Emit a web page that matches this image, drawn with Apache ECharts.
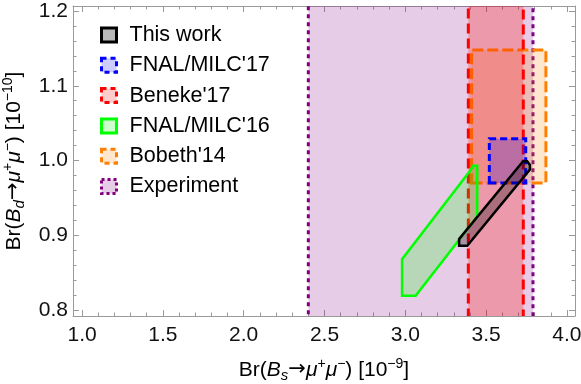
<!DOCTYPE html>
<html>
<head>
<meta charset="utf-8">
<script src="https://cdn.jsdelivr.net/npm/echarts@6/dist/echarts.min.js"></script>
<style>
  html, body { margin: 0; padding: 0; background: #fff; }
  #main { width: 581px; height: 384px; }
</style>
</head>
<body>
<div id="main"></div>
<script>
  // values
  var seriesNames = ['This work', "FNAL/MILC'17", "Beneke'17", "FNAL/MILC'16", "Bobeth'14", 'Experiment'];
  var experimentX = [2.40, 3.79];
  var benekeX = [3.39, 3.73];
  var bobethX = [3.41, 3.87];
  var bobethY = [0.970, 1.148];
  var fnal17X = [3.52, 3.745];
  var fnal17Y = [0.970, 1.029];
  var fnal16Pts = [[2.980, 0.868], [2.980, 0.819], [3.064, 0.819], [3.445, 0.925], [3.445, 0.993], [3.420, 0.993], [3.400, 0.986]];
  var thisWorkPts = [[3.333, 0.895], [3.333, 0.886], [3.383, 0.886], [3.771, 0.988], [3.771, 0.994], [3.754, 0.999], [3.729, 0.999]];
  var xTickLabels = ['1.0', '1.5', '2.0', '2.5', '3.0', '3.5', '4.0'];
  var yTickLabels = ['0.8', '0.9', '1.0', '1.1', '1.2'];

  var font = 'Liberation Sans, Arial, sans-serif';
  var gray = '#9a9a9a';

  function rectPts (xs, ys) {
    return [[xs[0], ys[0]], [xs[1], ys[0]], [xs[1], ys[1]], [xs[0], ys[1]]];
  }
  // bands run past the frame and get clipped
  function bandPts (xs) {
    return rectPts(xs, [0.6, 1.4]);
  }

  function region (name, pts, stroke, fill, dash, width) {
    return {
      type: 'custom',
      name: name,
      clip: true,
      silent: true,
      data: pts,
      renderItem: function (params, api) {
        if (params.dataIndex !== 0) return null;
        var points = pts.map(function (p) { return api.coord(p); });
        return {
          type: 'polygon',
          shape: {points: points},
          style: {fill: fill, stroke: stroke, lineWidth: width, lineDash: dash, lineJoin: 'miter'}
        };
      }
    };
  }

  function tickFmt (list) {
    return function (v) {
      var s = v.toFixed(1);
      return (list.indexOf(s) >= 0 && Math.abs(v - parseFloat(s)) < 1e-6) ? s : '';
    };
  }

  var rich = {
    n: {fontSize: 21, fontFamily: font, color: '#000', lineHeight: 26},
    i: {fontSize: 21, fontFamily: font, fontStyle: 'italic', color: '#000', lineHeight: 26},
    ar: {fontSize: 21, fontFamily: 'DejaVu Sans', color: '#000', lineHeight: 26},
    sub: {fontSize: 15, fontFamily: font, fontStyle: 'italic', color: '#000', lineHeight: 12, verticalAlign: 'bottom'},
    sup: {fontSize: 14, fontFamily: font, color: '#000', lineHeight: 10, verticalAlign: 'top'}
  };

  function axisBase (isX, pos, showLabel) {
    return {
      type: 'value',
      position: pos,
      min: isX ? 0.944 : 0.792,
      max: isX ? 4.05 : 1.2067,
      splitNumber: isX ? 6 : 5,
      axisLine: {show: true, onZero: false, lineStyle: {color: gray, width: 1}},
      axisTick: {show: true, inside: true, length: 6, lineStyle: {color: gray}},
      minorTick: {show: true, splitNumber: 5, length: 3.5, lineStyle: {color: gray}},
      splitLine: {show: false},
      axisLabel: {
        show: showLabel,
        formatter: tickFmt(isX ? xTickLabels : yTickLabels),
        fontSize: 21,
        fontFamily: font,
        color: '#111',
        margin: isX ? 9 : 5
      }
    };
  }

  var xBottom = axisBase(true, 'bottom', true);
  xBottom.name = '{n|Br(}{i|B}{sub|s}{ar|→}{i|μ}{sup|+}{i|μ}{sup|−}{n|) [10}{sup|−9}{n|]}';
  xBottom.nameLocation = 'middle';
  xBottom.nameGap = 41;
  xBottom.nameTextStyle = {rich: rich};

  var yLeft = axisBase(false, 'left', true);
  yLeft.name = '{n|Br(}{i|B}{sub|d}{ar|→}{i|μ}{sup|+}{i|μ}{sup|−}{n|) [10}{sup|−10}{n|]}';
  yLeft.nameLocation = 'middle';
  yLeft.nameGap = 46;
  yLeft.nameRotate = 90;
  yLeft.nameTextStyle = {rich: rich};

  var legendData = [
    {name: seriesNames[0], itemStyle: {color: 'rgba(0,0,0,0.28)', borderColor: '#000', borderWidth: 3}},
    {name: seriesNames[1], itemStyle: {color: 'rgba(0,0,255,0.2)', borderColor: '#0000ff', borderWidth: 3, borderType: [5, 4]}},
    {name: seriesNames[2], itemStyle: {color: 'rgba(255,0,0,0.2)', borderColor: '#ff0000', borderWidth: 3, borderType: [5, 4]}},
    {name: seriesNames[3], itemStyle: {color: 'rgba(0,255,0,0.2)', borderColor: '#00ff00', borderWidth: 3}},
    {name: seriesNames[4], itemStyle: {color: 'rgba(255,128,0,0.2)', borderColor: '#ff8000', borderWidth: 3, borderType: [5, 4]}},
    {name: seriesNames[5], itemStyle: {color: 'rgba(128,0,128,0.2)', borderColor: '#800080', borderWidth: 3, borderType: [3, 3]}}
  ];

  var chart = echarts.init(document.getElementById('main'), null, {renderer: 'canvas'});
  chart.setOption({
    animation: false,
    backgroundColor: '#fff',
    grid: {left: 73, right: 6, top: 6, bottom: 68, containLabel: false, outerBoundsMode: 'none'},
    legend: {
      orient: 'vertical',
      left: 95,
      top: 19,
      icon: 'rect',
      itemWidth: 15,
      itemHeight: 14,
      itemGap: 8.3,
      selectedMode: false,
      textStyle: {fontSize: 21.5, fontFamily: font, color: '#000', padding: [0, 0, 0, 8]},
      data: legendData
    },
    xAxis: [xBottom, axisBase(true, 'top', false)],
    yAxis: [yLeft, axisBase(false, 'right', false)],
    series: [
      region(seriesNames[5], bandPts(experimentX), '#800080', 'rgba(128,0,128,0.2)', [4, 4], 3),
      region(seriesNames[4], rectPts(bobethX, bobethY), '#ff8000', 'rgba(255,128,0,0.2)', [11, 4], 3),
      region(seriesNames[2], bandPts(benekeX), '#ff0000', 'rgba(255,0,0,0.25)', [10, 5], 3),
      region(seriesNames[3], fnal16Pts, '#00ff00', 'rgba(0,255,0,0.2)', null, 2.5),
      region(seriesNames[1], rectPts(fnal17X, fnal17Y), '#0000ff', 'rgba(0,0,255,0.22)', [7, 4], 3),
      region(seriesNames[0], thisWorkPts, '#000000', 'rgba(0,0,0,0.28)', null, 2.5)
    ]
  });
</script>
</body>
</html>
